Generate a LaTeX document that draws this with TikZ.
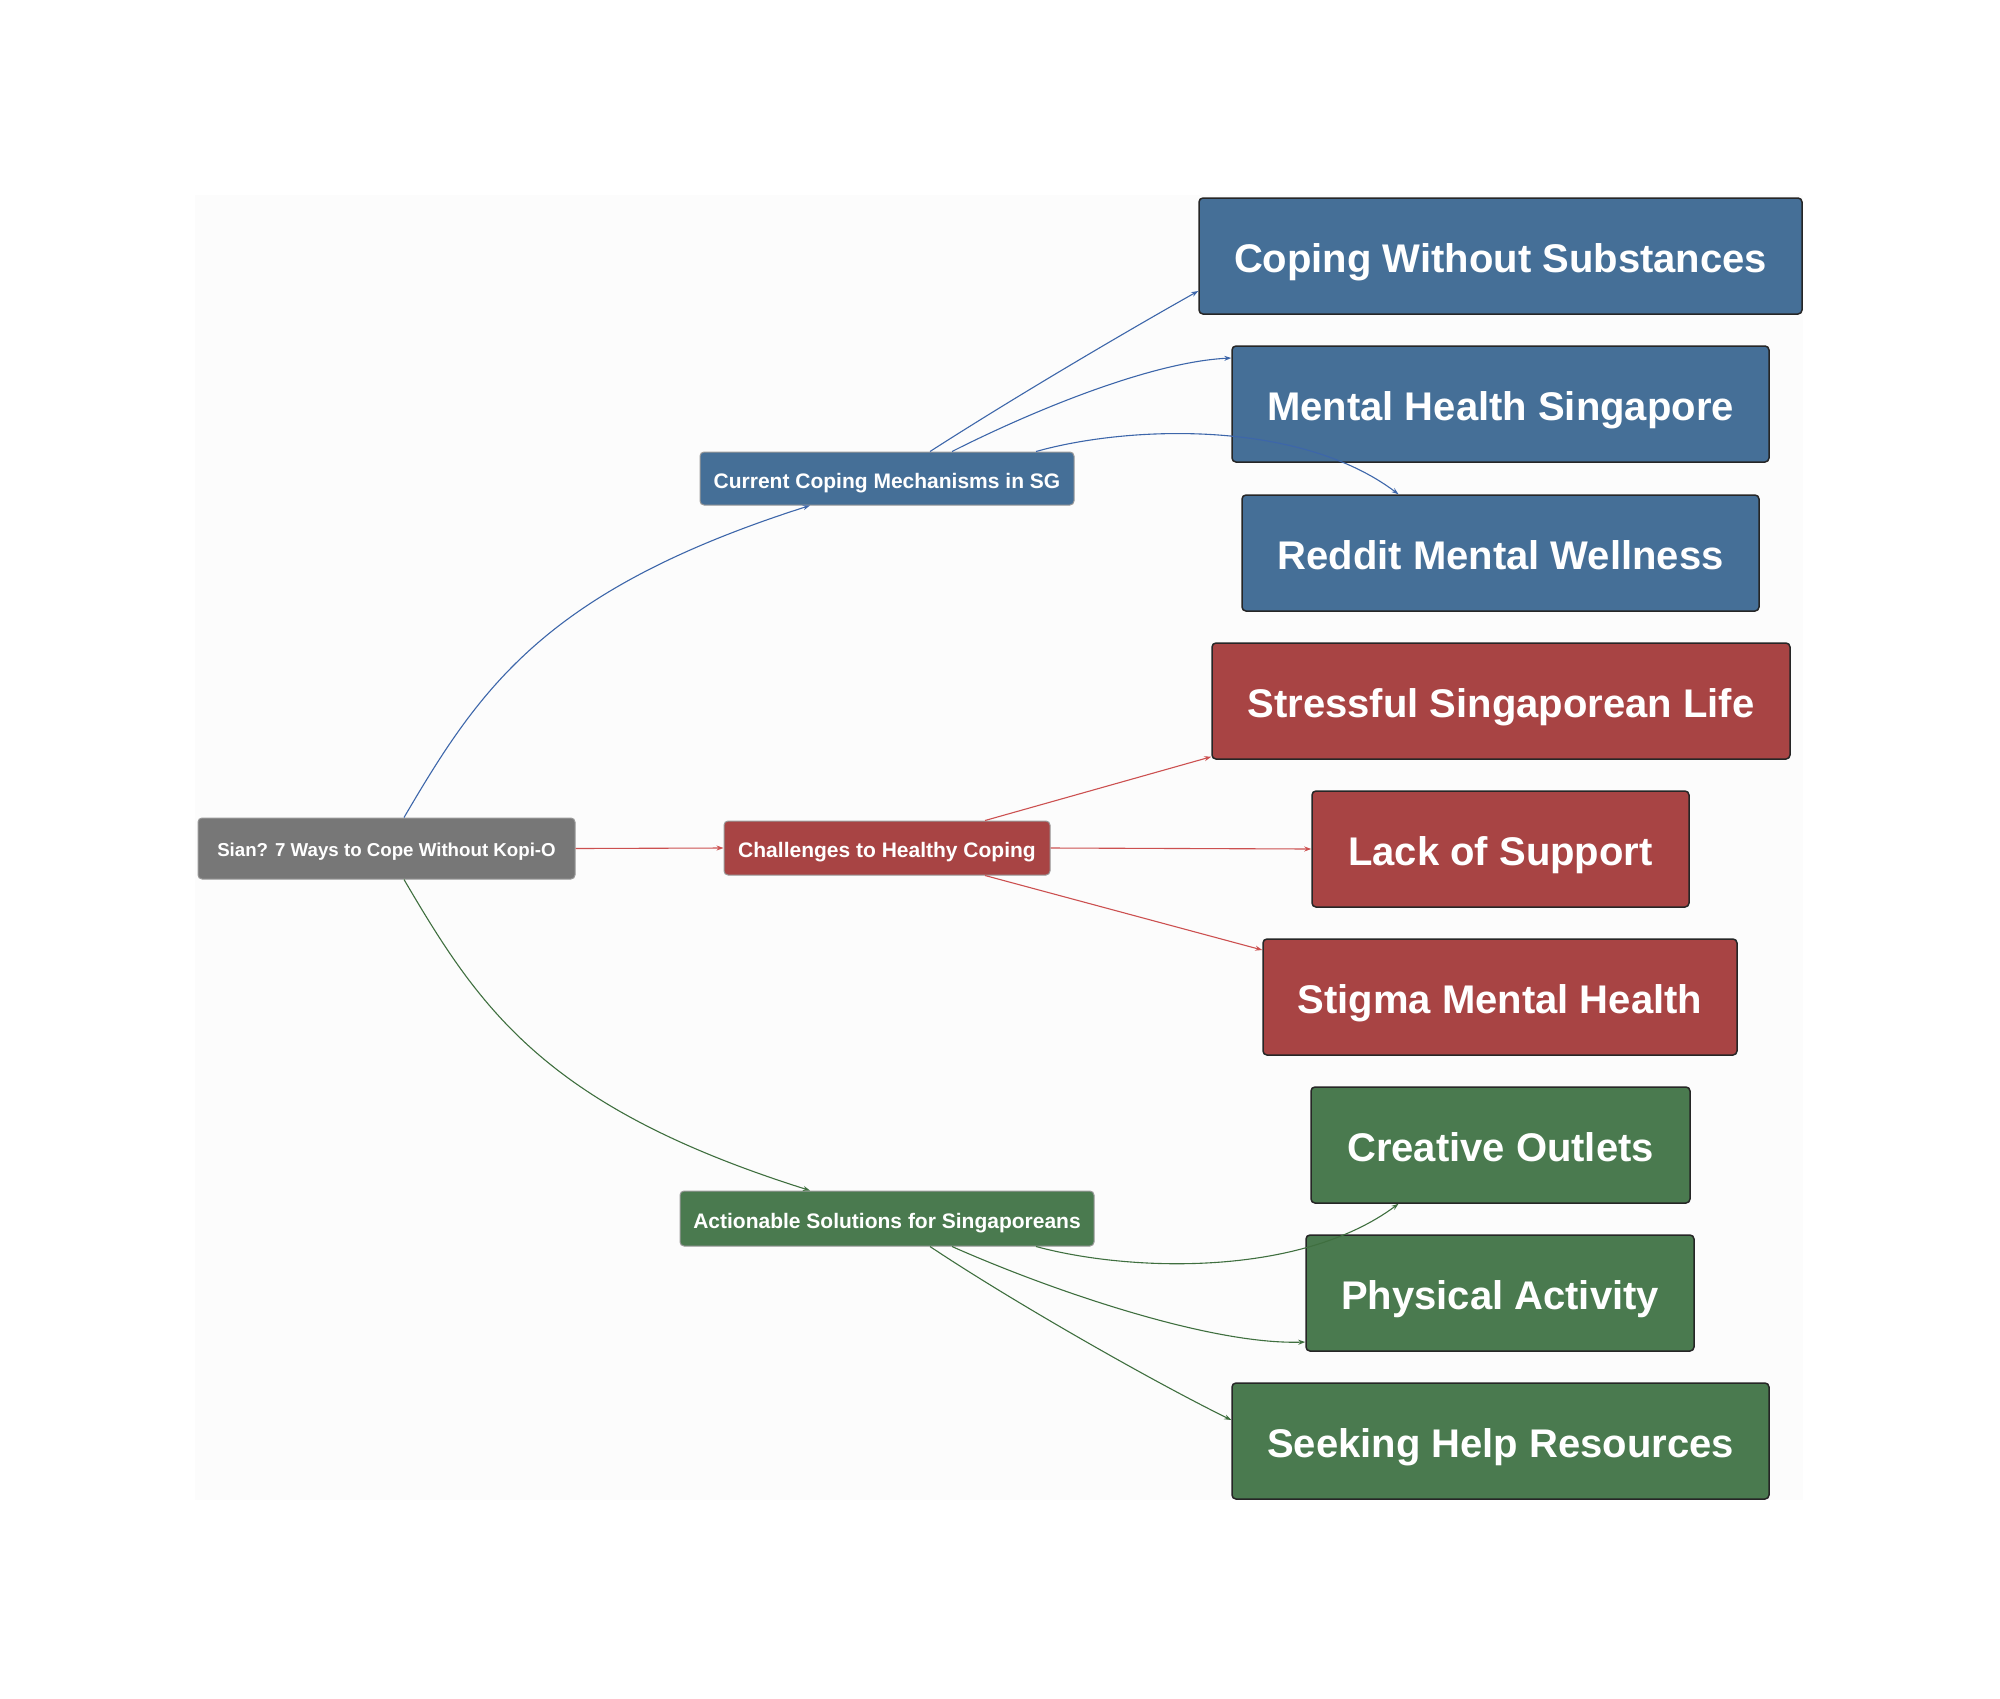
\documentclass[tikz,border=0pt]{standalone}
\usepackage{fontspec}
\setmainfont{Liberation Sans}
\usetikzlibrary{arrows.meta,calc}
\definecolor{bgc}{HTML}{FCFCFC}
\definecolor{bluefill}{HTML}{456F97}
\definecolor{redfill}{HTML}{A84444}
\definecolor{greenfill}{HTML}{4A7A4F}
\definecolor{grayfill}{HTML}{777777}
\definecolor{blueedge}{HTML}{3D66AA}
\definecolor{rededge}{HTML}{CC5050}
\definecolor{greenedge}{HTML}{3F6F3F}
\begin{document}
\begin{tikzpicture}[x=1pt,y=-1pt,
  box/.style={rounded corners=4pt, text=white, inner sep=0pt, align=center},
  bignode/.style={box, minimum height=116pt, draw=black!85, line width=1.5pt,
    font=\fontsize{40}{48}\selectfont\bfseries, text height=35pt, text depth=1.4pt},
  midnode/.style={box, draw=black!40, line width=1pt,
    font=\fontsize{21}{25}\selectfont\bfseries, text height=19.5pt, text depth=0.5pt},
  rootnode/.style={box, draw=black!40, line width=1pt, fill=grayfill,
    font=\fontsize{18.7}{22}\selectfont\bfseries, text height=15.5pt, text depth=0.5pt},
  conn/.style={line width=1.1pt, -{Stealth[length=7pt,width=5pt]}},
  bconn/.style={conn, draw=blueedge},
  rconn/.style={conn, draw=rededge},
  gconn/.style={conn, draw=greenedge}]
\useasboundingbox (0,0) rectangle (2000,1698);
\fill[white] (0,0) rectangle (2000,1698);
\fill[bgc] (195,195) rectangle (1803,1500);

% root and branches
\node[rootnode, minimum width=377pt, minimum height=61pt] (root) at (386.5,848.5) {Sian? 7 Ways to Cope Without Kopi-O};
\node[midnode, fill=bluefill, minimum width=374pt, minimum height=53pt] (cur) at (887,478.5) {Current Coping Mechanisms in SG};
\node[midnode, fill=redfill, minimum width=326pt, minimum height=54pt] (chal) at (887,848) {Challenges to Healthy Coping};
\node[midnode, fill=greenfill, minimum width=414pt, minimum height=55pt] (act) at (887,1218.5) {Actionable Solutions for Singaporeans};

% leaves
\node[bignode, fill=bluefill, minimum width=603pt] (cws) at (1500.5,256) {Coping Without Substances};
\node[bignode, fill=bluefill, minimum width=537pt] (mhs) at (1500.5,404) {Mental Health Singapore};
\node[bignode, fill=bluefill, minimum width=517pt] (rmw) at (1500.5,553) {Reddit Mental Wellness};
\node[bignode, fill=redfill, minimum width=578pt] (ssl) at (1501,701) {Stressful Singaporean Life};
\node[bignode, fill=redfill, minimum width=377pt] (los) at (1500.5,849) {Lack of Support};
\node[bignode, fill=redfill, minimum width=474pt] (smh) at (1500,997) {Stigma Mental Health};
\node[bignode, fill=greenfill, minimum width=379pt] (cro) at (1500.5,1145) {Creative Outlets};
\node[bignode, fill=greenfill, minimum width=388pt] (pha) at (1500,1293) {Physical Activity};
\node[bignode, fill=greenfill, minimum width=537pt] (shr) at (1500.5,1441) {Seeking Help Resources};

% root connectors
\draw[bconn] ([xshift=17.5pt]root.north) .. controls (480,688) and (545,590) .. ([xshift=-77pt]cur.south);
\draw[rconn] (root.east) -- (chal.west);
\draw[gconn] ([xshift=17.5pt]root.south) .. controls (480,1009) and (545,1107) .. ([xshift=-77pt]act.north);

% blue branch
\draw[bconn] ([xshift=43pt]cur.north) .. controls (1010,400) and (1120,335) .. ([yshift=-35pt]cws.west);
\draw[bconn] ([xshift=65pt]cur.north) .. controls (1030,412) and (1150,362) .. ([yshift=46pt]mhs.west);
\draw[bconn] ([xshift=149pt]cur.north) .. controls (1130,425) and (1300,420) .. ([xshift=-102pt]rmw.north);

% red branch
\draw[rconn] ([xshift=98pt]chal.north) -- ([yshift=3pt]ssl.south west);
\draw[rconn] (chal.east) -- (los.west);
\draw[rconn] ([xshift=98pt]chal.south) -- ([yshift=47pt]smh.west);

% green branch
\draw[gconn] ([xshift=149pt]act.south) .. controls (1130,1272) and (1300,1277) .. ([xshift=-102pt]cro.south);
\draw[gconn] ([xshift=65pt]act.south) .. controls (1050,1290) and (1210,1345) .. ([yshift=-49pt]pha.west);
\draw[gconn] ([xshift=43pt]act.south) .. controls (1010,1300) and (1150,1380) .. ([yshift=21pt]shr.west);
\end{tikzpicture}
\end{document}
